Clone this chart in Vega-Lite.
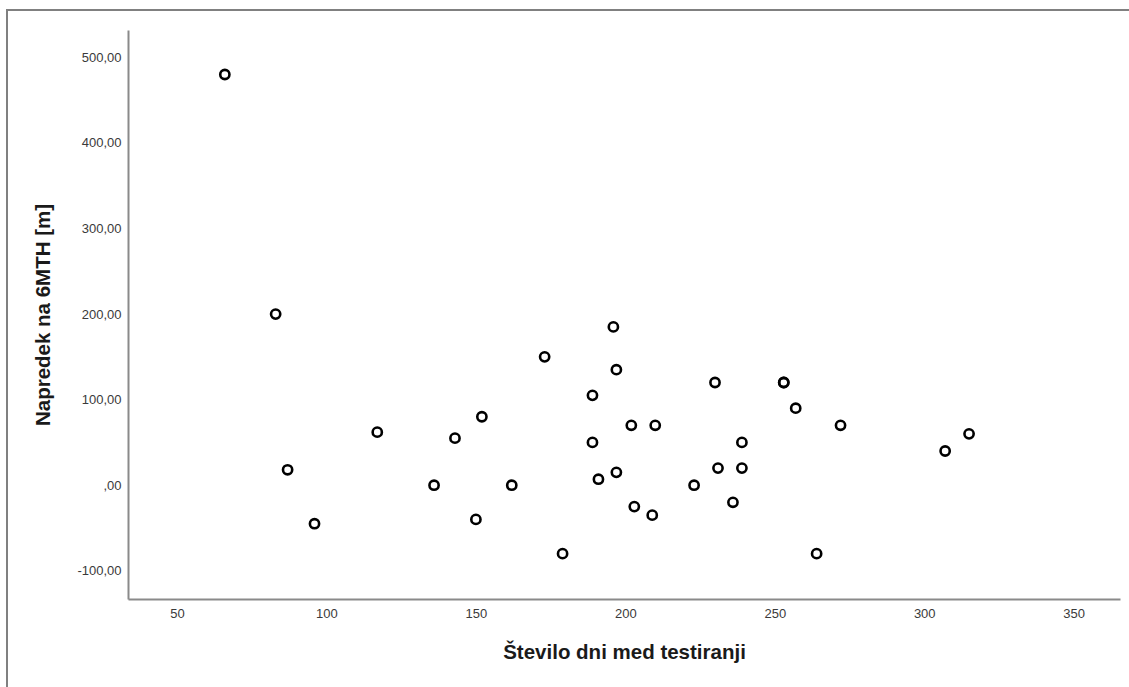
{
  "$schema": "https://vega.github.io/schema/vega-lite/v6.json",
  "autosize": "none",
  "width": 992,
  "height": 569,
  "padding": {"left": 128, "top": 30, "right": 9, "bottom": 88},
  "background": "white",
  "config": {
    "view": {"stroke": null},
    "font": "Liberation Sans"
  },
  "data": {
    "values": [
      {"dni": 66, "napredek": 480},
      {"dni": 83, "napredek": 200},
      {"dni": 87, "napredek": 18},
      {"dni": 96, "napredek": -45},
      {"dni": 117, "napredek": 62},
      {"dni": 136, "napredek": 0},
      {"dni": 143, "napredek": 55},
      {"dni": 152, "napredek": 80},
      {"dni": 150, "napredek": -40},
      {"dni": 162, "napredek": 0},
      {"dni": 173, "napredek": 150},
      {"dni": 179, "napredek": -80},
      {"dni": 189, "napredek": 105},
      {"dni": 189, "napredek": 50},
      {"dni": 191, "napredek": 7},
      {"dni": 196, "napredek": 185},
      {"dni": 197, "napredek": 135},
      {"dni": 197, "napredek": 15},
      {"dni": 202, "napredek": 70},
      {"dni": 203, "napredek": -25},
      {"dni": 210, "napredek": 70},
      {"dni": 209, "napredek": -35},
      {"dni": 223, "napredek": 0},
      {"dni": 230, "napredek": 120},
      {"dni": 231, "napredek": 20},
      {"dni": 239, "napredek": 50},
      {"dni": 239, "napredek": 20},
      {"dni": 236, "napredek": -20},
      {"dni": 253, "napredek": 120},
      {"dni": 253, "napredek": 120},
      {"dni": 257, "napredek": 90},
      {"dni": 272, "napredek": 70},
      {"dni": 264, "napredek": -80},
      {"dni": 307, "napredek": 40},
      {"dni": 315, "napredek": 60}
    ]
  },
  "layer": [
    {
      "mark": {"type": "rect", "filled": false, "fill": null, "stroke": "#808080", "strokeWidth": 1.5, "clip": false},
      "encoding": {
        "x": {"datum": -6.9, "type": "quantitative", "scale": {"domain": [33.6, 365.5], "nice": false, "zero": false}},
        "x2": {"datum": 420},
        "y": {"datum": 555.5, "type": "quantitative", "scale": {"domain": [-133, 532], "nice": false, "zero": false}},
        "y2": {"datum": -400}
      }
    },
    {
      "mark": {"type": "point", "shape": "circle", "filled": false, "stroke": "black", "strokeWidth": 2.6, "size": 85, "opacity": 1},
      "encoding": {
        "x": {
          "field": "dni",
          "type": "quantitative",
          "scale": {"domain": [33.6, 365.5], "nice": false, "zero": false},
          "axis": {
            "title": "Število dni med testiranji",
            "values": [50, 100, 150, 200, 250, 300, 350],
            "ticks": false,
            "grid": false,
            "domainColor": "#8a8a8a",
            "domainWidth": 2,
            "labelFont": "Liberation Sans",
            "labelFontSize": 13,
            "labelColor": "#3a3a3a",
            "labelPadding": 8,
            "titleFont": "Liberation Sans",
            "titleFontSize": 20.5,
            "titleFontWeight": "bold",
            "titleColor": "#1a1a1a",
            "titleBaseline": "middle",
            "titleY": 53
          }
        },
        "y": {
          "field": "napredek",
          "type": "quantitative",
          "scale": {"domain": [-133, 532], "nice": false, "zero": false},
          "axis": {
            "title": "Napredek na 6MTH [m]",
            "values": [-100, 0, 100, 200, 300, 400, 500],
            "labelExpr": "datum.value == 0 ? ',00' : (datum.value < 0 ? '-' : '') + format(abs(datum.value), 'd') + ',00'",
            "ticks": false,
            "grid": false,
            "domainColor": "#8a8a8a",
            "domainWidth": 2,
            "labelFont": "Liberation Sans",
            "labelFontSize": 13,
            "labelColor": "#3a3a3a",
            "labelPadding": 7,
            "titleFont": "Liberation Sans",
            "titleFontSize": 20.5,
            "titleFontWeight": "bold",
            "titleColor": "#1a1a1a",
            "titleBaseline": "middle",
            "titleX": -85
          }
        }
      }
    }
  ]
}
